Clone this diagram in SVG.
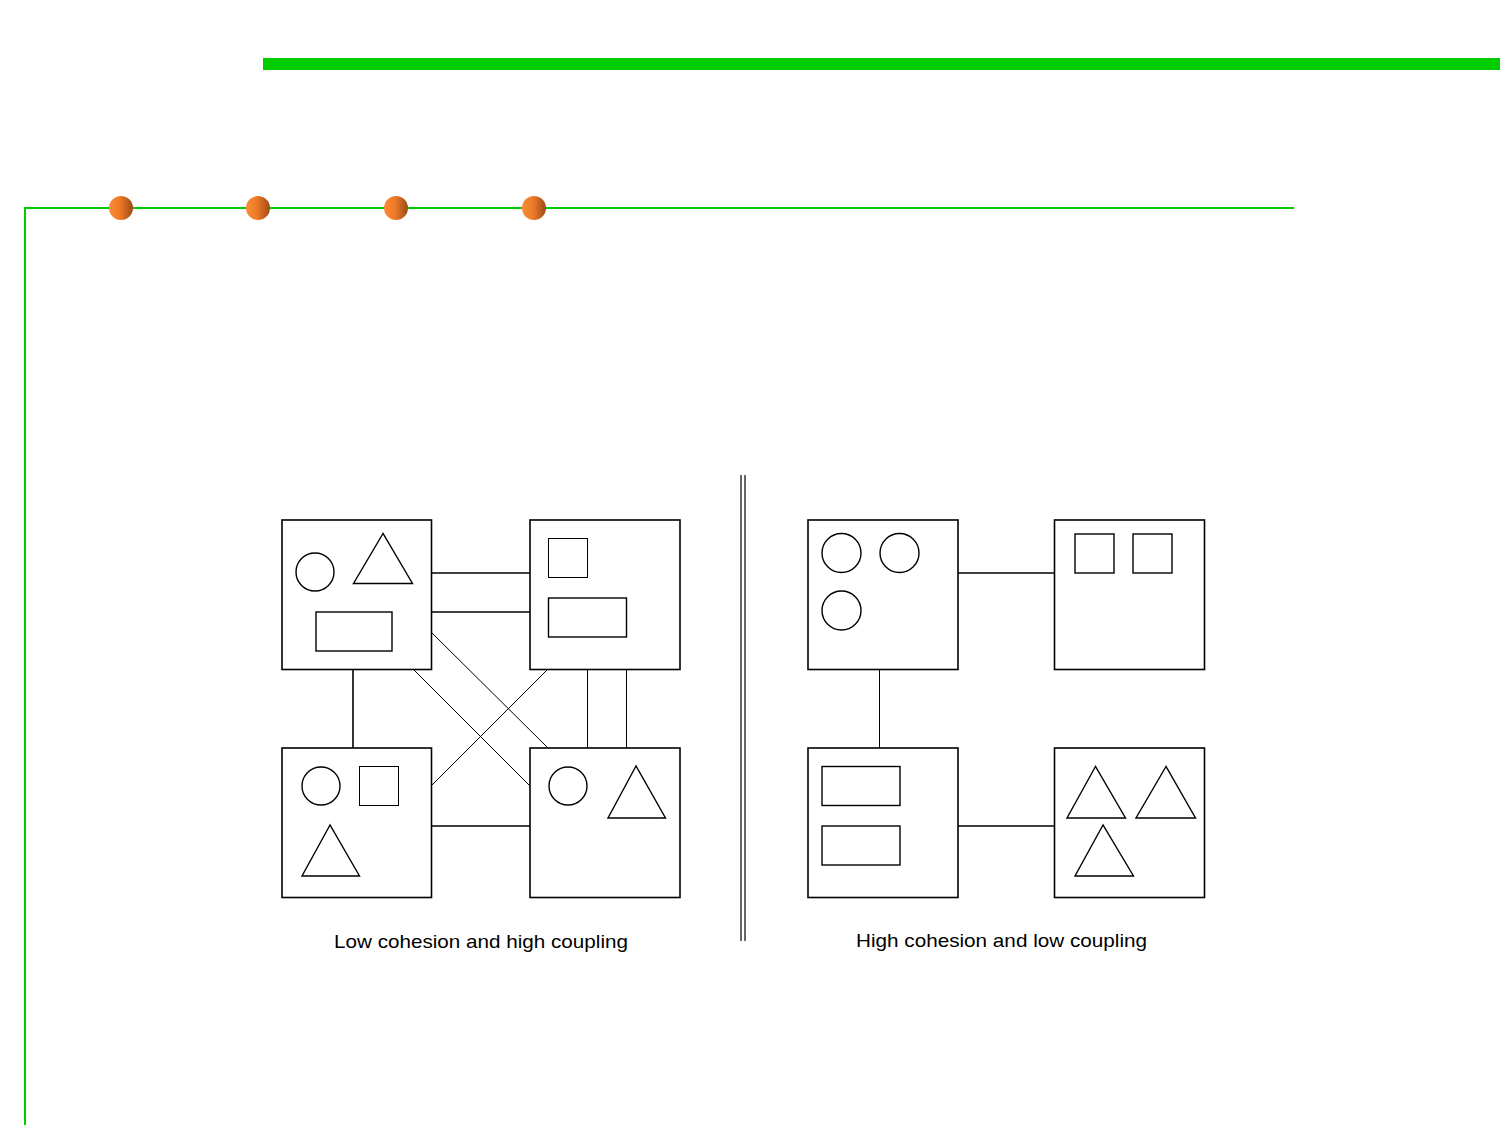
<svg xmlns="http://www.w3.org/2000/svg" width="1500" height="1125" viewBox="0 0 1500 1125">
<defs>
<linearGradient id="dot" x1="0" y1="0" x2="1" y2="0">
<stop offset="0" stop-color="#FA8C36"/>
<stop offset="0.45" stop-color="#EE7A28"/>
<stop offset="1" stop-color="#9C4A18"/>
</linearGradient>
<style>
.box{fill:#fff;stroke:#000;stroke-width:1.6}
.sh{fill:none;stroke:#000;stroke-width:1.4}
.thin{fill:none;stroke:#000;stroke-width:1}
.con{fill:none;stroke:#000;stroke-width:1.6}
.conthin{fill:none;stroke:#000;stroke-width:1}
.lbl{font-family:"Liberation Sans",Arial,sans-serif;font-size:19px;fill:#000}
.dot{fill:url(#dot)}
</style>
</defs>
<rect x="0" y="0" width="1500" height="1125" fill="#fff"/>
<g id="decor">
<rect x="263" y="58" width="1237" height="12" fill="#00CC00"/>
<polyline points="25,1125 25,208 1294,208" fill="none" stroke="#00CC00" stroke-width="2"/>
<circle class="dot" cx="121" cy="208" r="12"/>
<circle class="dot" cx="258" cy="208" r="12"/>
<circle class="dot" cx="396" cy="208" r="12"/>
<circle class="dot" cx="534" cy="208" r="12"/>
</g>
<g id="divider">
<line x1="741" y1="475" x2="741" y2="941" stroke="#000" stroke-width="1.2"/>
<line x1="745" y1="475" x2="745" y2="941" stroke="#000" stroke-width="1.2"/>
</g>
<g id="connectors">
<line class="con" x1="431" y1="573" x2="530" y2="573"/>
<line class="con" x1="431" y1="612" x2="530" y2="612"/>
<line class="con" x1="353" y1="669" x2="353" y2="748"/>
<line class="conthin" x1="587.5" y1="669" x2="587.5" y2="748"/>
<line class="conthin" x1="626.5" y1="669" x2="626.5" y2="748"/>
<line class="con" x1="431" y1="826" x2="530" y2="826"/>
<line class="conthin" x1="431" y1="632" x2="548" y2="748"/>
<line class="conthin" x1="413" y1="669" x2="530" y2="786"/>
<line class="conthin" x1="548" y1="669" x2="431" y2="786"/>
<line class="con" x1="958" y1="573" x2="1054" y2="573"/>
<line class="conthin" x1="879.5" y1="669" x2="879.5" y2="748"/>
<line class="con" x1="958" y1="826" x2="1054" y2="826"/>
</g>
<g id="left-tl">
<rect class="box" x="282" y="520" width="149.5" height="149.5"/>
<circle class="sh" cx="315" cy="572" r="19"/>
<polygon class="sh" points="383,533.5 353.5,583.5 412.5,583.5"/>
<rect class="sh" x="316" y="612" width="76" height="39" stroke-width="1.6"/>
</g>
<g id="left-tr">
<rect class="box" x="530" y="520" width="150" height="149.5"/>
<rect class="thin" x="548.5" y="538.5" width="39" height="39"/>
<rect class="sh" x="548.5" y="598" width="78" height="39" stroke-width="1.6"/>
</g>
<g id="left-bl">
<rect class="box" x="282" y="748" width="149.5" height="149.5"/>
<circle class="sh" cx="321" cy="786" r="19"/>
<rect class="thin" x="359.5" y="766.5" width="39" height="39"/>
<polygon class="sh" points="330,825 302,876 359.5,876"/>
</g>
<g id="left-br">
<rect class="box" x="530" y="748" width="150" height="149.5"/>
<circle class="sh" cx="568" cy="786" r="19"/>
<polygon class="sh" points="636,766 608,818 665.5,818"/>
</g>
<g id="right-tl">
<rect class="box" x="808" y="520" width="150" height="149.5"/>
<circle class="sh" cx="841.5" cy="553" r="19.5"/>
<circle class="sh" cx="899.5" cy="553" r="19.5"/>
<circle class="sh" cx="841.5" cy="610.5" r="19.5"/>
</g>
<g id="right-tr">
<rect class="box" x="1054.5" y="520" width="150" height="149.5"/>
<rect class="sh" x="1075" y="534" width="39" height="39" stroke-width="1.6"/>
<rect class="sh" x="1133" y="534" width="39" height="39" stroke-width="1.6"/>
</g>
<g id="right-bl">
<rect class="box" x="808" y="748" width="150" height="149.5"/>
<rect class="sh" x="822" y="766.5" width="78" height="39" stroke-width="1.6"/>
<rect class="sh" x="822" y="826" width="78" height="39" stroke-width="1.6"/>
</g>
<g id="right-br">
<rect class="box" x="1054.5" y="748" width="150" height="149.5"/>
<polygon class="sh" points="1095.5,766.5 1067,818 1125.5,818"/>
<polygon class="sh" points="1166,766.5 1136,818 1195.5,818"/>
<polygon class="sh" points="1103,825 1075,876 1133.5,876"/>
</g>
<g id="labels">
<text class="lbl" x="334" y="948" textLength="294" lengthAdjust="spacingAndGlyphs">Low cohesion and high coupling</text>
<text class="lbl" x="856" y="947" textLength="291" lengthAdjust="spacingAndGlyphs">High cohesion and low coupling</text>
</g>
</svg>
